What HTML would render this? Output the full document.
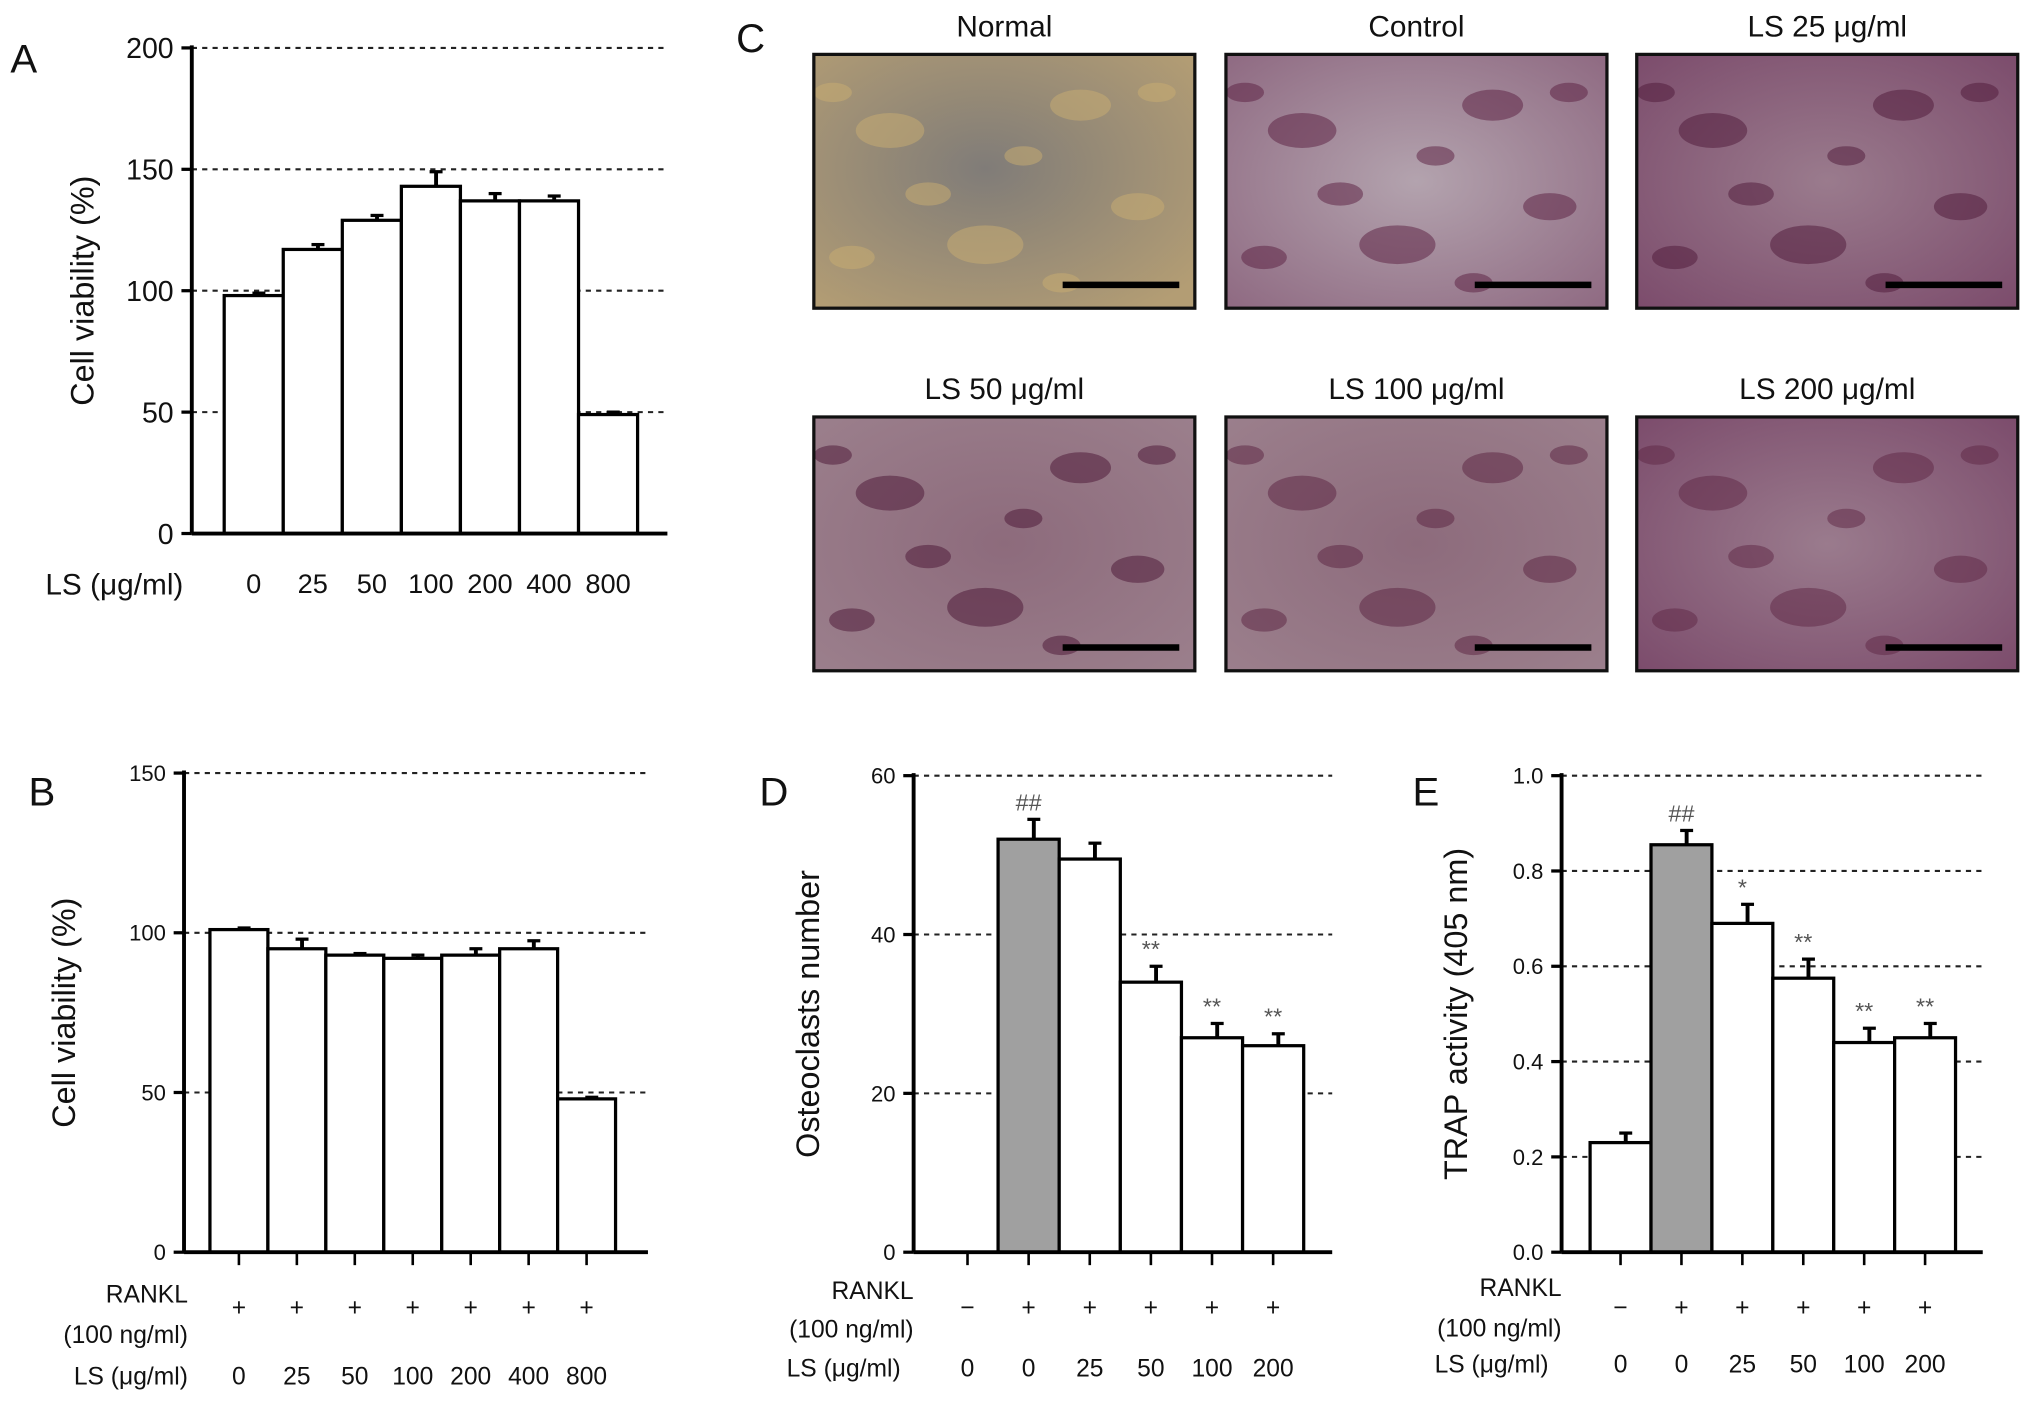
<!DOCTYPE html>
<html><head><meta charset="utf-8"><style>
html,body{margin:0;padding:0;background:#fff}
svg{display:block}
text{font-family:"Liberation Sans",sans-serif;fill:#111}
</style></head><body>
<svg id="fig" width="2032" height="1405" viewBox="0 0 1568 1085" preserveAspectRatio="none" xmlns="http://www.w3.org/2000/svg">
<defs>
<radialGradient id="gN" cx="45%" cy="45%" r="70%"><stop offset="0" stop-color="#807c78"/><stop offset="1" stop-color="#b39d74"/></radialGradient>
<radialGradient id="gC" cx="50%" cy="50%" r="70%"><stop offset="0" stop-color="#b3a3ae"/><stop offset="1" stop-color="#8f6a82"/></radialGradient>
<radialGradient id="gP" cx="50%" cy="50%" r="70%"><stop offset="0" stop-color="#9a7b8d"/><stop offset="1" stop-color="#7c4c6c"/></radialGradient>
<radialGradient id="gQ" cx="50%" cy="50%" r="70%"><stop offset="0" stop-color="#8d6b7c"/><stop offset="1" stop-color="#9b7f8c"/></radialGradient>
</defs>
<g id="root"></g>
</svg>
<script>
// Panel A data
const catsA = ['0','25','50','100','200','400','800'];
const valsA = [98,117,129,143,137,137,49];
const errA = [1,2,2,6,3,2,1];
// Panel B data
const catsB = ['0','25','50','100','200','400','800'];
const valsB = [101,95,93,92,93,95,48];
const errB = [0.5,3,0.5,1,2,2.5,0.5];
// Panel D data
const catsD = ['0','0','25','50','100','200'];
const rankD = ['−','+','+','+','+','+'];
const valsD = [0,52,49.5,34,27,26];
const errD = [0,2.5,2,2,1.8,1.5];
const sigD = ['','##','','**','**','**'];
// Panel E data
const catsE = ['0','0','25','50','100','200'];
const rankE = ['−','+','+','+','+','+'];
const valsE = [0.23,0.855,0.69,0.575,0.44,0.45];
const errE = [0.02,0.03,0.04,0.04,0.03,0.03];
const sigE = ['','##','*','**','**','**'];
const ticksA = [0,50,100,150,200];
const ticksB = [0,50,100,150];
const ticksD = [0,20,40,60];
const ticksE = ['0.0','0.2','0.4','0.6','0.8','1.0'];

const NS='http://www.w3.org/2000/svg';
const root=document.getElementById('root');
function el(tag,attrs,parent,txt){const e=document.createElementNS(NS,tag);for(const k in attrs)e.setAttribute(k,attrs[k]);if(txt!==undefined)e.textContent=txt;(parent||root).appendChild(e);return e;}

function panel(o){
  const g=el('g',{});
  
  
  const y=v=>o.y0-(v-o.min)/(o.max-o.min)*(o.y0-o.ytop);
  const n=o.vals.length;
  const bw=(o.xr-o.xl)/n;
  const cx=i=>o.xl+bw*(i+0.5);
  o.ticks.forEach(t=>{const v=parseFloat(t);
    if(v>0){const gl=el('line',{x1:o.ax,x2:o.gx,y1:y(v),y2:y(v),stroke:'#222','stroke-width':1.6,'stroke-dasharray':'4,4'},g);
    }
    const tk=el('line',{x1:o.ax-8,x2:o.ax,y1:y(v),y2:y(v),stroke:'#000','stroke-width':2.5},g);
    
    const tl=el('text',{x:o.ax-14,y:y(v)+o.fs*0.36,'text-anchor':'end','font-size':o.fs},g,t);
    
  });
  o.vals.forEach((v,i)=>{
    if(v>0){
      const ev=el('line',{x1:cx(i)+4,x2:cx(i)+4,y1:y(v),y2:y(v+o.err[i]),stroke:'#000','stroke-width':3},g);
      
      const eh=el('line',{x1:cx(i)-1,x2:cx(i)+9,y1:y(v+o.err[i]),y2:y(v+o.err[i]),stroke:'#000','stroke-width':2.5},g);
      
      const b=el('rect',{x:o.xl+bw*i,y:y(v),width:bw,height:y(o.min)-y(v),fill:(o.gray&&i===o.gray)?'#a0a0a0':'#fff',stroke:'#000','stroke-width':2.5},g);
      
    }
    if(o.sig&&o.sig[i]){const s=el('text',{x:cx(i),y:y(v+o.err[i])-7,'text-anchor':'middle','font-size':18,style:'fill:#555'},g,o.sig[i]);
      }
    if(o.xtick){const t=el('line',{x1:cx(i),x2:cx(i),y1:o.y0,y2:o.y0+10,stroke:'#000','stroke-width':2},g);
      }
    const lbl=el('text',{x:cx(i),y:o.labY,'text-anchor':'middle','font-size':o.lfs},g,o.cats[i]);
    
    if(o.rank){const r=el('text',{x:cx(i),y:o.rankY,'text-anchor':'middle','font-size':o.lfs},g,o.rank[i]);
      }
  });
  const ya=el('line',{x1:o.ax,x2:o.ax,y1:o.ytop-2,y2:o.y0,stroke:'#000','stroke-width':3},g);
  
  const xa=el('line',{x1:o.ax,x2:o.gx,y1:o.y0,y2:o.y0,stroke:'#000','stroke-width':3},g);
  
  const yt=el('text',{x:o.ytx,y:(o.ytop+o.y0)/2,'text-anchor':'middle','font-size':25,transform:`rotate(-90 ${o.ytx} ${(o.ytop+o.y0)/2})`},g,o.ytitle);
  
  const L=el('text',{x:o.letter[0],y:o.letter[1],'font-size':31},g,o.L);
  
  return g;
}

panel({name:'panel-a',cats:catsA,vals:valsA,err:errA,ticks:ticksA,min:0,max:200,y0:412,ytop:37,ax:148,gx:515,xl:173,xr:492,fs:22,lfs:21,labY:458,ytitle:'Cell viability (%)',ytx:72,L:'A',letter:[8,56]});
const la=el('text',{x:35,y:459,'font-size':23},root,'LS (μg/ml)');


panel({name:'panel-b',cats:catsB,vals:valsB,err:errB,ticks:ticksB,min:0,max:150,y0:967,ytop:597,ax:142,gx:500,xl:162,xr:475,fs:17,lfs:19,labY:1069,rank:['+','+','+','+','+','+','+'],rankY:1016,xtick:true,ytitle:'Cell viability (%)',ytx:58,L:'B',letter:[22,622]});
panel({name:'panel-d',cats:catsD,vals:valsD,err:errD,sig:sigD,gray:1,ticks:ticksD,min:0,max:60,y0:967,ytop:599,ax:705,gx:1028,xl:723,xr:1006,fs:17,lfs:19,labY:1063,rank:rankD,rankY:1016,xtick:true,ytitle:'Osteoclasts number',ytx:632,L:'D',letter:[586,622]});
panel({name:'panel-e',cats:catsE,vals:valsE,err:errE,sig:sigE,gray:1,ticks:ticksE,min:0,max:1,y0:967,ytop:599,ax:1205,gx:1530,xl:1227,xr:1509,fs:17,lfs:19,labY:1060,rank:rankE,rankY:1016,xtick:true,ytitle:'TRAP activity (405 nm)',ytx:1132,L:'E',letter:[1090,622]});

[[145,'B'],[705,'D'],[1205,'E']].forEach(([ax,k])=>{
  const ys=k==='E'?[1001,1032,1060]:(k==='B'?[1006,1037,1069]:[1003,1033,1063]);
  const a=el('text',{x:ax,y:ys[0],'text-anchor':'end','font-size':19},root,'RANKL');
  
  const b=el('text',{x:ax,y:ys[1],'text-anchor':'end','font-size':19},root,'(100 ng/ml)');
  
  const c=el('text',{x:ax-(k==='B'?0:10),y:ys[2],'text-anchor':'end','font-size':19},root,'LS (μg/ml)');
  
});

const Lc=el('text',{x:568,y:40,'font-size':31},root,'C');

const imgs=[
 {t:'Normal',x:628,y:42,f:'url(#gN)',blob:'#c9ad72'},
 {t:'Control',x:946,y:42,f:'url(#gC)',blob:'#5a1e40'},
 {t:'LS 25 μg/ml',x:1263,y:42,f:'url(#gP)',blob:'#4e1838'},
 {t:'LS 50 μg/ml',x:628,y:322,f:'url(#gQ)',blob:'#4a1434'},
 {t:'LS 100 μg/ml',x:946,y:322,f:'url(#gQ)',blob:'#5a2240'},
 {t:'LS 200 μg/ml',x:1263,y:322,f:'url(#gP)',blob:'#5e2644'}];
const blobs=[[0.2,0.3,0.09],[0.7,0.2,0.08],[0.45,0.75,0.1],[0.85,0.6,0.07],[0.1,0.8,0.06],[0.55,0.4,0.05],[0.3,0.55,0.06],[0.05,0.15,0.05],[0.9,0.15,0.05],[0.65,0.9,0.05]];
imgs.forEach(m=>{
  const g=el('g',{});
  
  el('rect',{x:m.x,y:m.y,width:294,height:196,fill:m.f},g);
  blobs.forEach(b=>el('ellipse',{cx:m.x+b[0]*294,cy:m.y+b[1]*196,rx:b[2]*294,ry:b[2]*150,fill:m.blob,opacity:0.5},g));
  el('rect',{x:m.x,y:m.y,width:294,height:196,fill:'none',stroke:'#111','stroke-width':2.5},g);
  const sb=el('line',{x1:m.x+192,x2:m.x+282,y1:m.y+178,y2:m.y+178,stroke:'#000','stroke-width':5},g);
  
  const t=el('text',{x:m.x+147,y:m.y-14,'text-anchor':'middle','font-size':23},g,m.t);
  
});
</script>
</body></html>
